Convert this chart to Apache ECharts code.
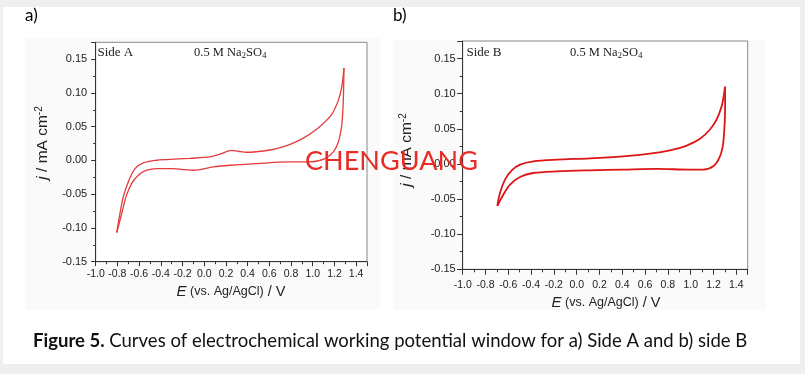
<!DOCTYPE html>
<html><head><meta charset="utf-8">
<script src="https://cdn.jsdelivr.net/npm/echarts@6/dist/echarts.min.js"></script>
<style>html,body{margin:0;padding:0;background:#efefef;} #c{width:805px;height:374px;}</style>
</head><body><div id="c"></div>
<script>
// ---------- DATA ----------
// Side A: anodic (forward) sweep from -0.8 V to +1.3 V
const potentialA_fwd = [-0.806, -0.782, -0.746, -0.700, -0.638, -0.561, -0.438, -0.346, -0.131, 0.053, 0.146, 0.253, 0.314, 0.392, 0.545, 0.668, 0.791, 0.913, 1.050, 1.170, 1.236, 1.267, 1.288];
const currentA_fwd   = [-0.107, -0.0835, -0.054, -0.0318, -0.012, -0.0037, 0.0003, 0.0013, 0.0032, 0.0052, 0.0092, 0.015, 0.0136, 0.0121, 0.014, 0.0176, 0.0239, 0.0330, 0.0480, 0.0670, 0.089, 0.1086, 0.137];
// Side A: cathodic (reverse) sweep
const potentialA_rev = [1.288, 1.283, 1.276, 1.265, 1.236, 1.190, 1.113, 0.975, 0.791, 0.484, 0.238, 0.084, -0.039, -0.100, -0.193, -0.285, -0.438, -0.530, -0.607, -0.668, -0.721, -0.760, -0.806];
const currentA_rev   = [0.137, 0.095, 0.070, 0.0495, 0.0273, 0.0126, 0.0028, -0.0022, -0.0022, -0.0046, -0.0071, -0.0096, -0.0135, -0.0145, -0.0135, -0.012, -0.012, -0.0145, -0.0219, -0.034, -0.054, -0.0785, -0.107];
// Side B: anodic sweep from -0.7 V to +1.3 V
const potentialB_fwd = [-0.696, -0.673, -0.629, -0.570, -0.497, -0.381, -0.175, 0.117, 0.409, 0.643, 0.818, 0.965, 1.082, 1.169, 1.228, 1.272, 1.292, 1.301];
const currentB_fwd   = [-0.0596, -0.0414, -0.0224, -0.0091, -0.001, 0.0037, 0.0061, 0.008, 0.0109, 0.0147, 0.0194, 0.0261, 0.0357, 0.049, 0.0633, 0.0823, 0.099, 0.110];
// Side B: cathodic sweep
const potentialB_rev = [1.301, 1.302, 1.295, 1.281, 1.251, 1.198, 1.111, 0.994, 0.702, 0.409, 0.117, -0.175, -0.381, -0.497, -0.585, -0.644, -0.696];
const currentB_rev   = [0.110, 0.0823, 0.049, 0.0251, 0.0086, -0.0034, -0.0081, -0.0081, -0.0071, -0.0081, -0.0091, -0.0106, -0.0129, -0.0186, -0.0296, -0.0439, -0.0596];

const panelLabels = ['a)', 'b)'];
const sideLabels = ['Side A', 'Side B'];
const captionBold = 'Figure 5.';
const captionText = ' Curves of electrochemical working potential window for a) Side A and b) side B';
const watermark = 'CHENGUANG';

// ---------- HELPERS ----------
const ctx = document.createElement('canvas').getContext('2d');
function measure(font, s) { ctx.font = font; return ctx.measureText(s).width; }
const capFont = 'Lato, "Open Sans", sans-serif';
const capSize = 100 * 715 / (measure('bold 100px ' + capFont, captionBold) + measure('100px ' + capFont, captionText));
const wmSize = 100 * 173 / measure('100px ' + capFont, watermark);

function zip(a, b) { return a.map((v, i) => [v, b[i]]); }
const AX = '#333';
const lblFont = '"Liberation Sans", Arial';
function xAx(gi, tick, margin) {
  return {
    type: 'value', gridIndex: gi, min: -1.0, max: 1.5, interval: 0.2,
    axisLine: { show: true, onZero: false, lineStyle: { color: AX, width: 1 } },
    axisTick: { show: true, length: tick, lineStyle: { color: AX } },
    minorTick: { show: true, splitNumber: 2, length: tick * 0.55, lineStyle: { color: AX } },
    splitLine: { show: false },
    axisLabel: { fontFamily: lblFont, fontSize: 10.5, color: '#222', margin: margin,
      showMaxLabel: false, formatter: v => (Math.abs(v) < 1e-9 ? 0 : v).toFixed(1) }
  };
}
function yAx(gi, tick, margin) {
  return {
    type: 'value', gridIndex: gi, min: -0.15, max: 0.175, interval: 0.05,
    axisLine: { show: true, onZero: false, lineStyle: { color: AX, width: 1 } },
    axisTick: { show: true, length: tick, lineStyle: { color: AX } },
    minorTick: { show: true, splitNumber: 2, length: tick * 0.55, lineStyle: { color: AX } },
    splitLine: { show: false },
    axisLabel: { fontFamily: lblFont, fontSize: 11, color: '#222', margin: margin,
      showMaxLabel: false, formatter: v => (Math.abs(v) < 1e-9 ? 0 : v).toFixed(2) }
  };
}
function line(gi, xs, ys, color, w) {
  return { type: 'line', xAxisIndex: gi, yAxisIndex: gi, data: zip(xs, ys), showSymbol: false,
    smooth: 0.3, silent: true, lineStyle: { color: color, width: w }, z: 3 };
}
const serif = '"Liberation Serif", "Times New Roman", serif';
const sans = '"Liberation Sans", Arial, sans-serif';
function txt(x, y, text, rich, extra) {
  return Object.assign({ type: 'text', x: x, y: y, z: 50,
    style: Object.assign({ text: text, rich: rich, fill: '#111' }, extra || {}) });
}
const yNameRich = {
  i: { fontFamily: sans, fontStyle: 'italic', fontSize: 15.5, lineHeight: 18, fill: '#222', verticalAlign: 'middle' },
  n: { fontFamily: sans, fontSize: 15.5, lineHeight: 18, fill: '#222', verticalAlign: 'middle' },
  s: { fontFamily: sans, fontSize: 10, lineHeight: 10, fill: '#222', verticalAlign: 'top' }
};
const xNameRich = {
  i: { fontFamily: sans, fontStyle: 'italic', fontSize: 15, fill: '#222' },
  n: { fontFamily: sans, fontSize: 12.5, fill: '#222' },
  m: { fontFamily: sans, fontSize: 14.5, fill: '#222' }
};
const naRich = {
  n: { fontFamily: serif, fontSize: 12.5, lineHeight: 15, fill: '#222', verticalAlign: 'middle' },
  s: { fontFamily: serif, fontSize: 9, lineHeight: 9, fill: '#222', verticalAlign: 'bottom' }
};
const mid = { verticalAlign: 'middle', textVerticalAlign: 'middle' };
const cmid = { align: 'center', textAlign: 'center', verticalAlign: 'middle', textVerticalAlign: 'middle' };

const option = {
  animation: false,
  backgroundColor: 'transparent',
  grid: [
    { left: 95.7, top: 42.3, width: 271.3, height: 219.4, show: true, backgroundColor: '#fff', borderColor: '#888', borderWidth: 1, containLabel: false, outerBoundsMode: 'none' },
    { left: 462.7, top: 41, width: 285, height: 228.3, show: true, backgroundColor: '#fff', borderColor: '#888', borderWidth: 1, containLabel: false, outerBoundsMode: 'none' }
  ],
  xAxis: [xAx(0, 4.5, 7), xAx(1, 5.5, 10)],
  yAxis: [yAx(0, 4.5, 8.5), yAx(1, 5.5, 7)],
  series: [
    line(0, potentialA_fwd, currentA_fwd, '#e53a3a', 1.3),
    line(0, potentialA_rev, currentA_rev, '#e53a3a', 1.3),
    line(1, potentialB_fwd, currentB_fwd, '#dd1515', 1.8),
    line(1, potentialB_rev, currentB_rev, '#dd1515', 1.8)
  ],
  graphic: [
    { type: 'rect', z: -10, shape: { x: 3, y: 7, width: 797, height: 357 }, style: { fill: '#ffffff' } },
    { type: 'rect', z: -9, shape: { x: 25, y: 38, width: 355, height: 272 }, style: { fill: '#fafafa' } },
    { type: 'rect', z: -9, shape: { x: 393, y: 40, width: 372, height: 270 }, style: { fill: '#fafafa' } },
    txt(25, 16, panelLabels[0], null, Object.assign({ font: '17px ' + capFont, fill: '#000' }, mid)),
    txt(393, 16, panelLabels[1], null, Object.assign({ font: '17px ' + capFont, fill: '#000' }, mid)),
    txt(97.5, 53, sideLabels[0], null, Object.assign({ font: '13px ' + serif, fill: '#222' }, mid)),
    txt(466.5, 53, sideLabels[1], null, Object.assign({ font: '13px ' + serif, fill: '#222' }, mid)),
    txt(194, 53, '{n|0.5 M Na}{s|2}{n|SO}{s|4}', naRich, mid),
    txt(570, 53, '{n|0.5 M Na}{s|2}{n|SO}{s|4}', naRich, mid),
    Object.assign(txt(43, 143, '{i|j}{n| / mA cm}{s|-2}', yNameRich, cmid), { rotation: Math.PI / 2 }),
    Object.assign(txt(407, 150, '{i|j}{n| / mA cm}{s|-2}', yNameRich, cmid), { rotation: Math.PI / 2 }),
    txt(231, 292, '{i|E}{n| (vs. Ag/AgCl)}{m| / V}', xNameRich, cmid),
    txt(606, 303, '{i|E}{n| (vs. Ag/AgCl)}{m| / V}', xNameRich, cmid),
    txt(305, 161, watermark, null, Object.assign({ font: wmSize.toFixed(2) + 'px ' + capFont, fill: '#ea2b25' }, mid)),
    txt(33, 341, '{b|' + captionBold + '}{n|' + captionText + '}', {
      b: { fontFamily: capFont, fontWeight: 'bold', fontSize: capSize, fill: '#111' },
      n: { fontFamily: capFont, fontSize: capSize, fill: '#111' }
    }, mid)
  ]
};
const chart = echarts.init(document.getElementById('c'), null, { renderer: 'canvas' });
chart.setOption(option);
</script></body></html>
